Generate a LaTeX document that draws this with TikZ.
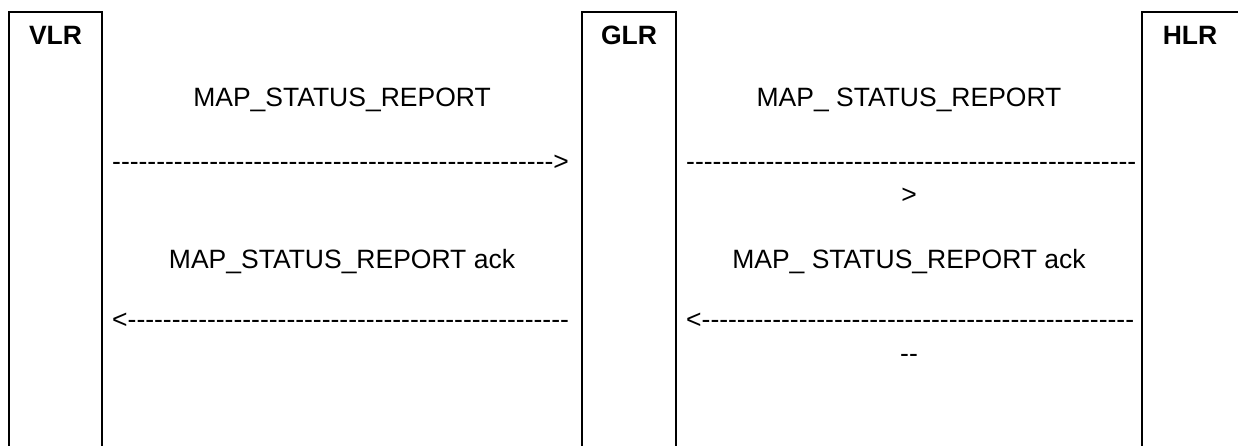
\documentclass[tikz,border=0pt]{standalone}
\usepackage{fontspec}
\setmainfont{Liberation Sans}[Ligatures=TeXOff]
\usetikzlibrary{positioning}

\begin{document}
\begin{tikzpicture}[x=1pt,y=-1pt,
  msg/.style={inner sep=0pt,anchor=base,font=\fontsize{26.5}{30}\selectfont},
  dashrow/.style={msg,anchor=base west},
  entity/.style={msg,font=\fontsize{26.5}{30}\selectfont\bfseries},
  box/.style={line width=2.5pt}]

\useasboundingbox (0,0) rectangle (1238,446);
\clip (0,0) rectangle (1238,446);

%% ── entity boxes ─────────────────────────────────────────────────────────────
\draw[box] (9,460) -- (9,12) -- (102,12) -- (102,460);
\draw[box] (582,460) -- (582,12) -- (676,12) -- (676,460);
\draw[box] (1142,460) -- (1142,12) -- (1245,12);

\node[entity] (vlr) at (55.5,45) {VLR};
\node[entity] (glr) at (629,45) {GLR};
\node[entity] (hlr) at (1190,45) {HLR};

%% ════════════════════════════════════════════════════════════════════════════
%%  VLR -- GLR
%% ════════════════════════════════════════════════════════════════════════════
\node[msg] (req1) at (342,107) {MAP\_STATUS\_REPORT};
\node[dashrow] (reqarrow1) at (112,171)
  {-------------------------------------------------->};

\node[msg] (ack1) at (342,268) {MAP\_STATUS\_REPORT ack};
\node[dashrow] (ackarrow1) at (112,328.5)
  {<--------------------------------------------------};

%% ════════════════════════════════════════════════════════════════════════════
%%  GLR -- HLR
%% ════════════════════════════════════════════════════════════════════════════
\node[msg] (req2) at (909,107) {MAP\_ STATUS\_REPORT};
\node[dashrow] (reqarrow2) at (686,171)
  {---------------------------------------------------};
\node[msg] (reqtip2) at (909,204) {>};

\node[msg] (ack2) at (909,268) {MAP\_ STATUS\_REPORT ack};
\node[dashrow] (ackarrow2) at (686,328.5)
  {<-------------------------------------------------};
\node[msg] (acktail2) at (909,362) {--};

\end{tikzpicture}
\end{document}
